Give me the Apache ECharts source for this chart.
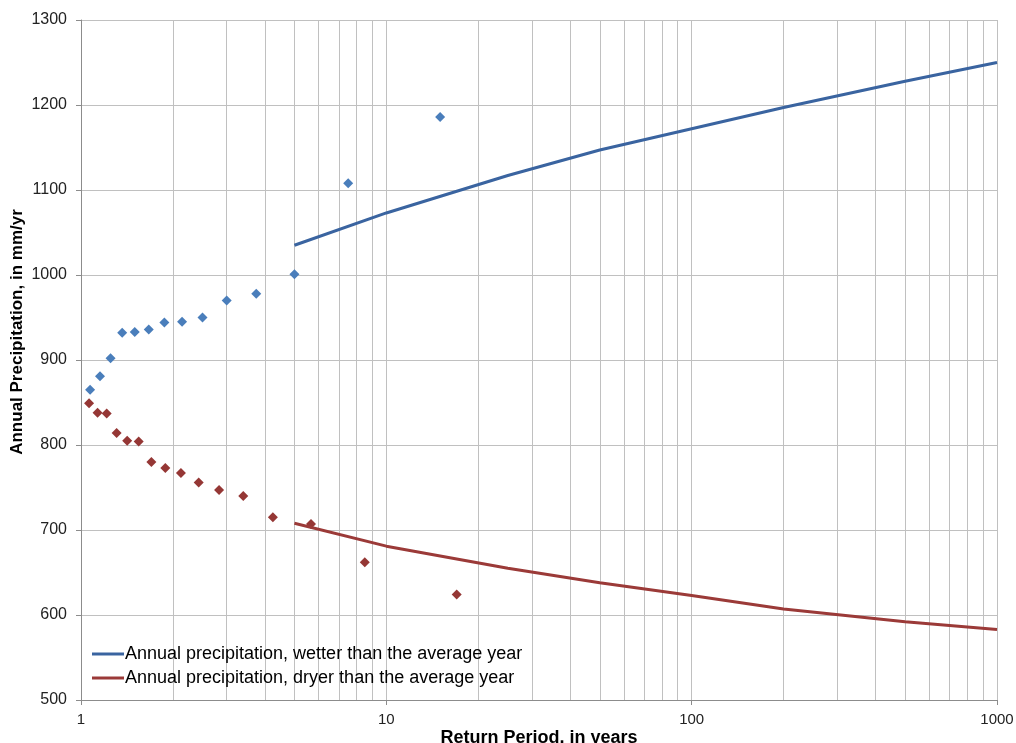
<!DOCTYPE html>
<html>
<head>
<meta charset="utf-8">
<script src="https://cdn.jsdelivr.net/npm/echarts@6/dist/echarts.min.js"></script>
<style>html,body{margin:0;padding:0;background:#fff}#c{width:1016px;height:743px}</style>
</head>
<body>
<div id="c"></div>
<script>
// Observed (plotting-position) points, wetter years
const wetPeriods = [1.071, 1.154, 1.25, 1.364, 1.5, 1.667, 1.875, 2.143, 2.5, 3, 3.75, 5, 7.5, 15];
const wetValues  = [865, 881, 902, 932, 933, 936, 944, 945, 950, 970, 978, 1001, 1108, 1186];
// Observed points, dryer years
const dryPeriods = [1.0625, 1.133, 1.214, 1.308, 1.417, 1.545, 1.7, 1.889, 2.125, 2.429, 2.833, 3.4, 4.25, 5.667, 8.5, 17];
const dryValues  = [849, 838, 837, 814, 805, 804, 780, 773, 767, 756, 747, 740, 715, 707, 662, 624];
// Fitted frequency curves
const curvePeriods = [5, 10, 25, 50, 100, 200, 500, 1000];
const wetCurve = [1035, 1073, 1117, 1147, 1172, 1197, 1228, 1250];
const dryCurve = [708, 681, 655, 638, 623, 607, 592, 583];
// Axis ticks
const xTicks = [1, 10, 100, 1000];
const yMin = 500, yMax = 1300, yStep = 100;
const legendNames = ['Annual precipitation, wetter than the average year', 'Annual precipitation, dryer than the average year'];

const minorGrid = [];
for (let i = 0; i < xTicks.length - 1; i++) {
  for (let k = 2; k <= 9; k++) minorGrid.push({ xAxis: xTicks[i] * k });
}
const zip = (a, b) => a.map((v, i) => [v, b[i]]);

const gridColor = '#c0c0c0';
const chart = echarts.init(document.getElementById('c'));
chart.setOption({
  animation: false,
  textStyle: { fontFamily: 'Liberation Sans, Arial, sans-serif' },
  grid: { left: 81, right: 19, top: 20, bottom: 43, containLabel: false, outerBoundsMode: 'none' },
  legend: {
    orient: 'vertical', left: 87, top: 640, itemGap: 6,
    itemWidth: 32, itemHeight: 3, icon: 'rect',
    textStyle: { fontSize: 18, color: '#000', padding: [0, 0, 0, -4] },
    data: legendNames
  },
  xAxis: {
    type: 'log', logBase: 10, min: 1, max: 1000,
    name: 'Return Period, in years', nameLocation: 'middle', nameGap: 29, nameMoveOverlap: false,
    nameTextStyle: { fontSize: 18, fontWeight: 'bold', color: '#000' },
    axisLine: { show: true, lineStyle: { color: '#8c8c8c', width: 1 } },
    axisTick: { show: true, inside: false, length: 5, lineStyle: { color: '#8c8c8c' } },
    axisLabel: { fontSize: 15, color: '#222', margin: 12, formatter: v => String(Math.round(v)) },
    splitLine: { show: true, lineStyle: { color: gridColor, width: 1 } }
  },
  yAxis: {
    type: 'value', min: yMin, max: yMax, interval: yStep,
    name: 'Annual Precipitation, in mm/yr', nameLocation: 'middle', nameGap: 55, nameMoveOverlap: false,
    nameTextStyle: { fontSize: 17, fontWeight: 'bold', color: '#000', padding: [0, 0, 0, 56] },
    axisLine: { show: true, lineStyle: { color: '#8c8c8c', width: 1 } },
    axisTick: { show: true, inside: false, length: 5, lineStyle: { color: '#8c8c8c' } },
    axisLabel: { fontSize: 16, color: '#222', margin: 14, formatter: v => String(v) },
    splitLine: { show: true, lineStyle: { color: gridColor, width: 1 } }
  },
  series: [
    {
      name: 'wet points', type: 'scatter', symbol: 'diamond', symbolSize: 10,
      itemStyle: { color: '#4a7ebb', opacity: 1 }, data: zip(wetPeriods, wetValues), z: 3,
      markLine: {
        silent: true, symbol: ['none', 'none'], z: 1,
        label: { show: false }, emphasis: { disabled: true },
        lineStyle: { color: gridColor, width: 1, type: 'solid' },
        data: minorGrid
      }
    },
    {
      name: 'dry points', type: 'scatter', symbol: 'diamond', symbolSize: 10,
      itemStyle: { color: '#953735', opacity: 1 }, data: zip(dryPeriods, dryValues), z: 3
    },
    {
      name: legendNames[0], type: 'line', symbol: 'none', smooth: false,
      lineStyle: { color: '#3a64a0', width: 3 }, itemStyle: { color: '#3a64a0' },
      data: zip(curvePeriods, wetCurve), z: 4
    },
    {
      name: legendNames[1], type: 'line', symbol: 'none', smooth: false,
      lineStyle: { color: '#9b3a38', width: 3 }, itemStyle: { color: '#9b3a38' },
      data: zip(curvePeriods, dryCurve), z: 4
    }
  ]
});
</script>
</body>
</html>
